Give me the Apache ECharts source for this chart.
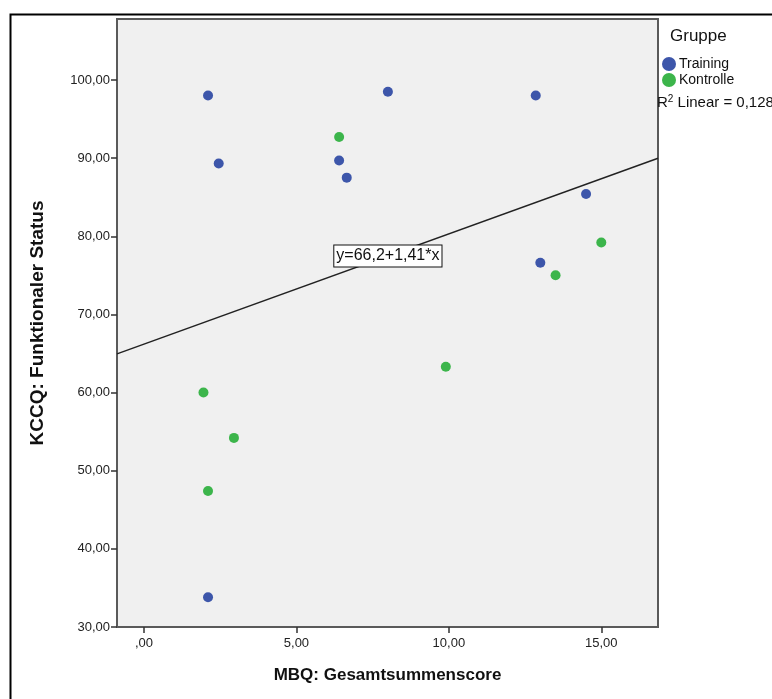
<!DOCTYPE html>
<html>
<head>
<meta charset="utf-8">
<script src="https://cdn.jsdelivr.net/npm/echarts@6/dist/echarts.min.js"></script>
<style>
  html, body { margin: 0; padding: 0; background: #fff; }
  #chart { width: 772px; height: 699px; }
</style>
</head>
<body>
<div id="chart"></div>
<script>
// scatter data
const trainingX = [2.1, 2.45, 6.4, 6.65, 8.0, 12.85, 14.5, 13.0, 2.1];
const trainingY = [98.0, 89.3, 89.7, 87.5, 98.5, 98.0, 85.4, 76.6, 33.8];
const kontrolleX = [6.4, 13.5, 15.0, 9.9, 1.95, 2.95, 2.1];
const kontrolleY = [92.7, 75.0, 79.2, 63.3, 60.0, 54.2, 47.4];

// fit line y = a + b*x
const fitA = 66.2;
const fitB = 1.41;
const fitLabel = 'y=66,2+1,41*x';
const fitLabelX = 8;

const xMin = -0.886, xMax = 16.86;
const yMin = 30, yMax = 107.8;
const xTicks = [0, 5, 10, 15];
const yTicks = [30, 40, 50, 60, 70, 80, 90, 100];

const fmt = (v) => {
  let s = v.toFixed(2).replace('.', ',');
  if (s.startsWith('0,')) s = s.slice(1);
  return s;
};

const FONT = '"Liberation Sans", Arial, sans-serif';
const chart = echarts.init(document.getElementById('chart'));

const option = {
  animation: false,
  textStyle: { fontFamily: FONT },
  grid: {
    left: 117, right: 114, top: 19, bottom: 72,
    show: true,
    backgroundColor: '#f0f0f0',
    borderColor: '#5a5a5a',
    borderWidth: 2
  },
  legend: {
    data: ['Training', 'Kontrolle'],
    orient: 'vertical',
    left: 657,
    top: 52,
    icon: 'circle',
    itemWidth: 14,
    itemHeight: 14,
    itemGap: 2,
    textStyle: { fontFamily: FONT, fontSize: 14, color: '#111', padding: [0, 0, 0, -2] }
  },
  graphic: [
    {
      type: 'rect', left: 8, top: 12, silent: true,
      shape: { width: 800, height: 720 },
      style: { fill: 'none', stroke: '#000', lineWidth: 2 }
    },
    {
      type: 'text', left: 670, top: 28,
      style: { text: 'Gruppe', fontFamily: FONT, fontSize: 17, fill: '#111' }
    },
    {
      type: 'text', left: 657, top: 94,
      style: {
        text: '{r|R}{s|2}{t| Linear = 0,128}',
        fontFamily: FONT, fill: '#111',
        rich: {
          r: { fontFamily: FONT, fontSize: 15, fill: '#111' },
          s: { fontFamily: FONT, fontSize: 10, fill: '#111', padding: [0, 0, 7, 0] },
          t: { fontFamily: FONT, fontSize: 15, fill: '#111' }
        }
      }
    }
  ],
  xAxis: {
    type: 'value',
    min: xMin, max: xMax,
    name: 'MBQ: Gesamtsummenscore',
    nameLocation: 'middle',
    nameGap: 40,
    nameTextStyle: { fontFamily: FONT, fontSize: 17, fontWeight: 'bold', color: '#111' },
    splitLine: { show: false },
    axisLine: { show: true, onZero: false, lineStyle: { color: '#5a5a5a', width: 2 } },
    axisTick: { show: true, length: 6, customValues: xTicks, lineStyle: { color: '#333', width: 1.5 } },
    axisLabel: {
      customValues: xTicks, formatter: fmt, margin: 10,
      fontFamily: FONT, fontSize: 13, color: '#222'
    }
  },
  yAxis: {
    type: 'value',
    min: yMin, max: yMax,
    name: 'KCCQ: Funktionaler Status',
    nameLocation: 'middle',
    nameGap: 70,
    nameTextStyle: { fontFamily: FONT, fontSize: 19, fontWeight: 'bold', color: '#111' },
    splitLine: { show: false },
    axisLine: { show: true, onZero: false, lineStyle: { color: '#5a5a5a', width: 2 } },
    axisTick: { show: true, length: 6, customValues: yTicks, lineStyle: { color: '#333', width: 1.5 } },
    axisLabel: {
      customValues: yTicks, formatter: fmt, margin: 7,
      fontFamily: FONT, fontSize: 13, color: '#222'
    }
  },
  series: [
    {
      name: 'Fit',
      type: 'line',
      symbol: 'none',
      silent: true,
      z: 2,
      lineStyle: { color: '#222', width: 1.5 },
      data: [[xMin, fitA + fitB * xMin], [xMax, fitA + fitB * xMax]],
      markPoint: {
        symbol: 'rect',
        symbolSize: 0,
        data: [{ coord: [fitLabelX, fitA + fitB * fitLabelX] }],
        label: {
          show: true,
          formatter: fitLabel,
          position: 'inside',
          fontFamily: FONT,
          fontSize: 16,
          color: '#111',
          backgroundColor: '#fff',
          borderColor: '#111',
          borderWidth: 1,
          padding: [3, 2, 2, 2]
        }
      }
    },
    {
      name: 'Training',
      type: 'scatter',
      symbolSize: 10,
      z: 3,
      itemStyle: { color: '#3d56aa', opacity: 1 },
      data: trainingX.map((x, i) => [x, trainingY[i]])
    },
    {
      name: 'Kontrolle',
      type: 'scatter',
      symbolSize: 10,
      z: 3,
      itemStyle: { color: '#3cb54b', opacity: 1 },
      data: kontrolleX.map((x, i) => [x, kontrolleY[i]])
    }
  ]
};

chart.setOption(option);
</script>
</body>
</html>
